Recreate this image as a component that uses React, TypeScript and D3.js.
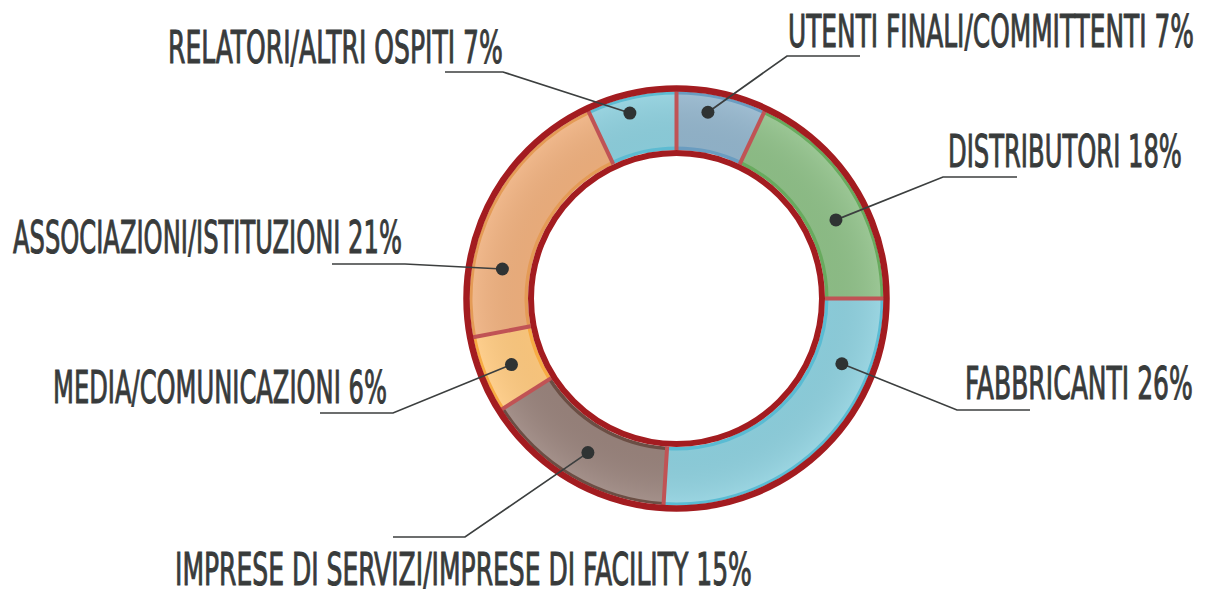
import React, { useRef, useEffect } from "react";
import * as d3 from "d3";

// segment order: clockwise from 12 o'clock
const categories = [
  "UTENTI FINALI/COMMITTENTI",
  "DISTRIBUTORI",
  "FABBRICANTI",
  "IMPRESE DI SERVIZI/IMPRESE DI FACILITY",
  "MEDIA/COMUNICAZIONI",
  "ASSOCIAZIONI/ISTITUZIONI",
  "RELATORI/ALTRI OSPITI",
];
const values = [7, 18, 26, 15, 6, 21, 7];

const fills = ["#93b5cc", "#8fc088", "#8ed0de", "#99837c", "#fec97f", "#efb07e", "#8dcfdd"];
const edges = ["#6a9cc0", "#68aa5e", "#5abbd3", "#6b4e44", "#f7ab43", "#e49b56", "#5dbbd2"];

// where the dot sits inside its slice (fraction of angle span, fraction of band width)
const dotAt = [
  [0.38, 0.69],
  [0.595, 0.5],
  [0.23, 0.5],
  [0.487, 0.5],
  [0.49, 0.5],
  [0.27, 0.48],
  [0.44, 0.73],
];

// leader elbow, leader end, text x, baseline, text width
const labelLayout = [
  { elbow: [787, 56], end: [860, 56], x: 788, y: 47, w: 406 },
  { elbow: [943, 177], end: [1017, 177], x: 948, y: 167, w: 234 },
  { elbow: [957, 410], end: [1030, 410], x: 965, y: 399, w: 228 },
  { elbow: [465, 537], end: [393, 537], x: 175, y: 585, w: 577 },
  { elbow: [393, 413], end: [320, 413], x: 53, y: 403, w: 334 },
  { elbow: [405, 264], end: [332, 264], x: 13, y: 253, w: 389 },
  { elbow: [503, 72], end: [445, 72], x: 168, y: 63, w: 335 },
];

const App = () => {
  const svgRef = useRef(null);

  useEffect(() => {
    const width = 1207;
    const height = 591;
    const cx = 676.5;
    const cy = 298.5;
    const rIn = 148.5;
    const rOut = 207;
    const red = "#a31c20";

    const svg = d3.select(svgRef.current).attr("width", width).attr("height", height).html("");

    const pie = d3.pie<number>().sort(null).value((d) => d);
    const slices = pie(values);

    const g = svg.append("g").attr("transform", `translate(${cx},${cy})`);

    const edgeArc = d3.arc<any>().innerRadius(rIn).outerRadius(rOut);
    const bodyArc = d3.arc<any>().innerRadius(rIn + 3.5).outerRadius(rOut - 3);

    g.selectAll("path.edge")
      .data(slices)
      .join("path")
      .attr("class", "edge")
      .attr("d", edgeArc)
      .attr("fill", (d, i) => edges[i]);

    const defs = svg.append("defs");
    const grad = defs
      .append("radialGradient")
      .attr("id", "shine")
      .attr("gradientUnits", "userSpaceOnUse")
      .attr("cx", 0)
      .attr("cy", 0)
      .attr("r", rOut);
    grad.append("stop").attr("offset", rIn / rOut).attr("stop-color", "#000").attr("stop-opacity", 0.03);
    grad.append("stop").attr("offset", 1).attr("stop-color", "#fff").attr("stop-opacity", 0.12);

    g.selectAll("path.body")
      .data(slices)
      .join("path")
      .attr("class", "body")
      .attr("d", bodyArc)
      .attr("fill", (d, i) => fills[i]);

    g.selectAll("path.shine")
      .data(slices)
      .join("path")
      .attr("class", "shine")
      .attr("d", bodyArc)
      .attr("fill", "url(#shine)");

    // separators
    g.selectAll("line.sep")
      .data(slices)
      .join("line")
      .attr("class", "sep")
      .attr("x1", (d) => rIn * Math.sin(d.startAngle))
      .attr("y1", (d) => -rIn * Math.cos(d.startAngle))
      .attr("x2", (d) => rOut * Math.sin(d.startAngle))
      .attr("y2", (d) => -rOut * Math.cos(d.startAngle))
      .attr("stroke", "#c05355")
      .attr("stroke-width", 4);

    // red rings
    g.append("circle").attr("r", 210).attr("fill", "none").attr("stroke", red).attr("stroke-width", 6.5);
    g.append("circle").attr("r", 145.5).attr("fill", "none").attr("stroke", red).attr("stroke-width", 6);

    const dots = slices.map((d, i) => {
      const a = d.startAngle + (d.endAngle - d.startAngle) * dotAt[i][0];
      const r = rIn + (rOut - rIn) * dotAt[i][1];
      return [cx + r * Math.sin(a), cy - r * Math.cos(a)];
    });

    // leaders
    const line = d3.line();
    svg
      .selectAll("path.leader")
      .data(labelLayout)
      .join("path")
      .attr("class", "leader")
      .attr("d", (d, i) => line([dots[i] as [number, number], d.elbow as [number, number], d.end as [number, number]]))
      .attr("fill", "none")
      .attr("stroke", "#3c3f3f")
      .attr("stroke-width", 1.7);

    svg
      .selectAll("circle.dot")
      .data(dots)
      .join("circle")
      .attr("class", "dot")
      .attr("cx", (d) => d[0])
      .attr("cy", (d) => d[1])
      .attr("r", 6.5)
      .attr("fill", "#2f3333");

    // labels: squeeze horizontally to the condensed width of the original
    svg
      .selectAll("text.label")
      .data(labelLayout)
      .join("text")
      .attr("class", "label")
      .attr("font-family", "'Liberation Sans Narrow', 'DejaVu Sans Condensed', 'Liberation Sans', sans-serif")
      .attr("font-size", 45)
      .attr("fill", "#383b3b")
      .attr("stroke", "#383b3b")
      .attr("stroke-width", 1)
      .text((d, i) => `${categories[i]} ${values[i]}%`)
      .each(function (d) {
        const node = this as SVGTextElement;
        const w0 = node.getComputedTextLength() || d.w;
        d3.select(node).attr("transform", `translate(${d.x},${d.y}) scale(${d.w / w0},1)`);
      });
  }, []);

  return <svg ref={svgRef} style={{ position: "absolute", left: 0, top: 0 }} />;
};

export default App;
